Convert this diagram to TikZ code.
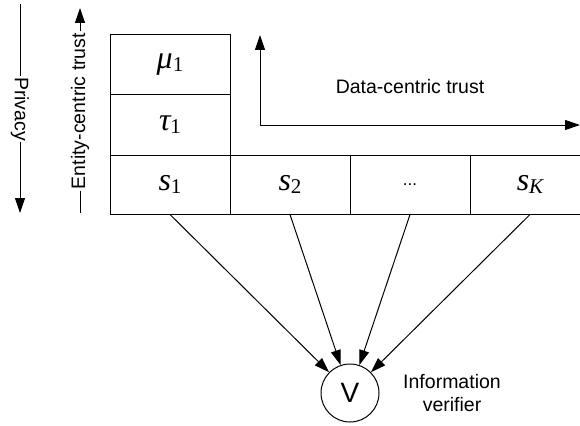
\documentclass[tikz,border=0pt]{standalone}
\usepackage{fontspec}
\setmainfont{Liberation Serif}
\setsansfont{Liberation Sans}
\usetikzlibrary{arrows.meta}

% italic symbol with an upright (or given) lowered index
\newcommand{\symlab}[2]{{\fontsize{32}{32}\selectfont\itshape #1}\raisebox{-0.28em}{\fontsize{21}{21}\selectfont #2}}

\tikzset{
  every picture/.style={line width=1pt},
  arr/.style={-{Triangle[length=15pt,width=10pt]}},
  cell/.style={draw, minimum width=120pt, minimum height=60pt, inner sep=0pt, anchor=center},
  lbl/.style={font=\sffamily\fontsize{19.5}{23}\selectfont},
  axislbl/.style={lbl, inner sep=1pt},
}

\begin{document}
\begin{tikzpicture}[x=1pt,y=-1pt]
\useasboundingbox (0,0) rectangle (580,425);

% stacked cells of the first source
\node[cell] (mu1) at (170,65) {\symlab{μ}{1}};
\node[cell] (tau1) at (170,125) {\symlab{τ}{1}};

% row of sources
\node[cell, minimum height=59pt] (s1) at (170,184.5) {\symlab{s}{1}};
\node[cell, minimum height=59pt] (s2) at (290,184.5) {\symlab{s}{2}};
\node[cell, minimum height=59pt] (sdots) at (410,184.5) {\sffamily\fontsize{17}{20}\selectfont ...};
\node[cell, minimum height=59pt] (sK) at (530,184.5) {\symlab{s}{\itshape K}};

% data-centric trust axes
\coordinate (dcO) at (260,125);
\coordinate (dcY) at (260,35);
\coordinate (dcX) at (580,125);
\draw[arr] (dcO) -- (dcY);
\draw[arr] (dcO) -- (dcX);
\node[lbl] (dctext) at (410,87) {Data-centric trust};

% privacy axis
\coordinate (pvTop) at (20,4);
\coordinate (pvBot) at (20,213);
\node[axislbl, rotate=-90] (pv) at (20,109) {Privacy};
\draw (pvTop) -- (pv.west);
\draw[arr] (pv.east) -- (pvBot);

% entity-centric trust axis
\coordinate (ecBot) at (80,213);
\coordinate (ecTop) at (80,8);
\node[axislbl, rotate=90] (ec) at (80,111) {Entity-centric trust};
\draw (ecBot) -- (ec.west);
\draw[arr] (ec.east) -- (ecTop);

% information verifier
\node[draw, circle, minimum size=58pt, inner sep=0pt, font=\sffamily\fontsize{28}{28}\selectfont] (V) at (350,393) {V};
\node[lbl, align=center] (vtext) at (452,393) {Information\\verifier};

\foreach \s in {s1,s2,sdots,sK}
  \draw[arr] (\s.south) -- (V);
\end{tikzpicture}
\end{document}
